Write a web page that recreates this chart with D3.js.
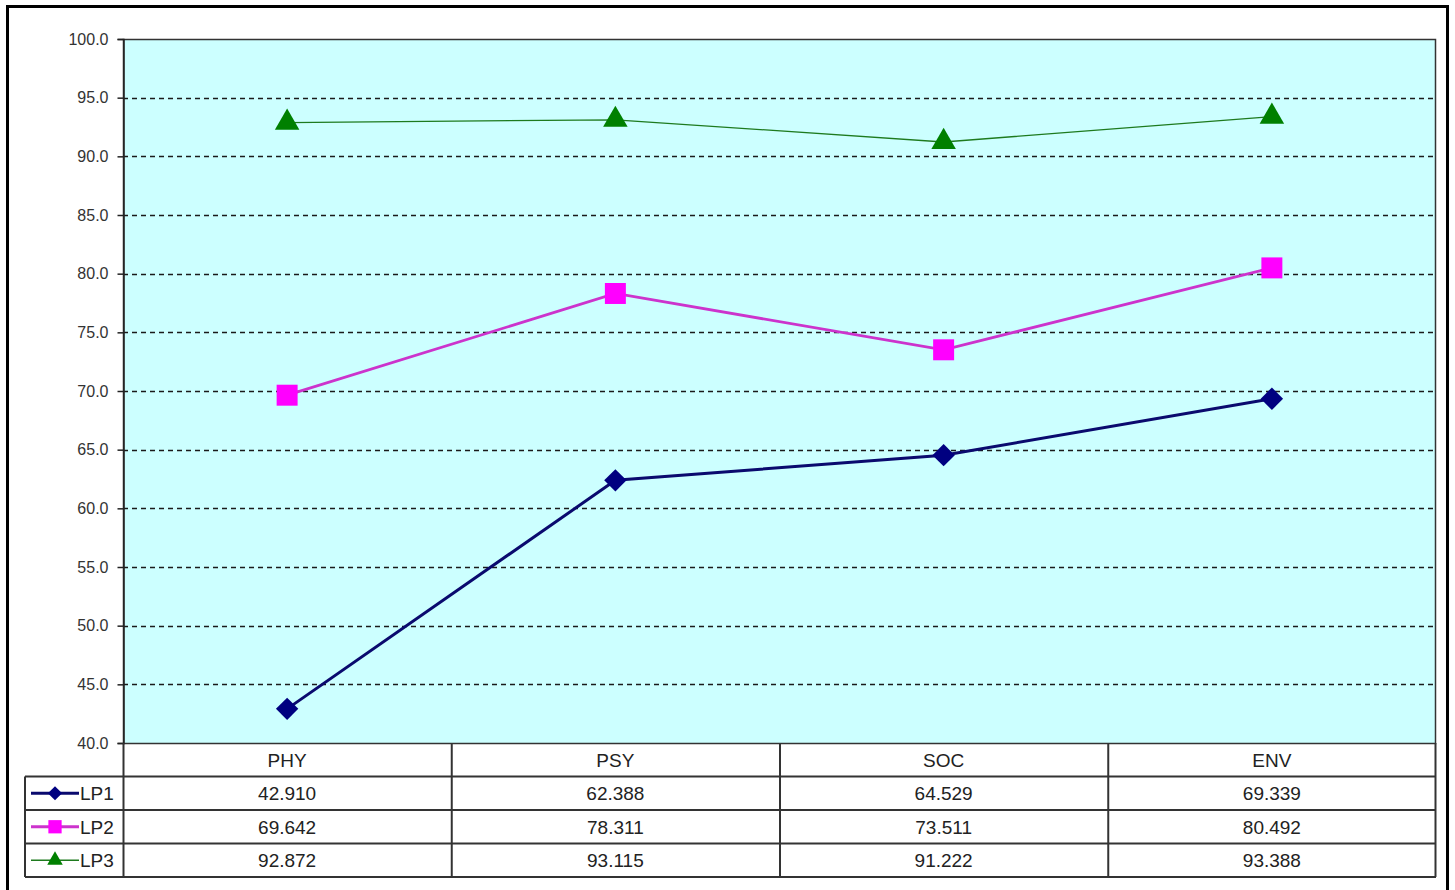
<!DOCTYPE html>
<html>
<head>
<meta charset="utf-8">
<script src="https://cdn.jsdelivr.net/npm/d3@7"></script>
<style>
  body { margin: 0; background: #fff; }
  svg { display: block; font-family: Arial, "Liberation Sans", sans-serif; }
</style>
</head>
<body>
<div id="chart"></div>
<script>
const categories = ["PHY", "PSY", "SOC", "ENV"];
const seriesNames = ["LP1", "LP2", "LP3"];
const lp1 = [42.910, 62.388, 64.529, 69.339];
const lp2 = [69.642, 78.311, 73.511, 80.492];
const lp3 = [92.872, 93.115, 91.222, 93.388];
const yTicks = [40, 45, 50, 55, 60, 65, 70, 75, 80, 85, 90, 95, 100];

// excel-style diamond: a square turned 45 degrees
const diamond = {
  draw(ctx, size) {
    const r = Math.sqrt(size / 2);
    ctx.moveTo(0, -r);
    ctx.lineTo(r, 0);
    ctx.lineTo(0, r);
    ctx.lineTo(-r, 0);
    ctx.closePath();
  }
};

const series = [
  { name: seriesNames[0], values: lp1, color: "#000080", lineColor: "#0a0a6e", width: 3, symbol: diamond, size: 250 },
  { name: seriesNames[1], values: lp2, color: "#ff00ff", lineColor: "#cc33cc", width: 2.8, symbol: d3.symbolSquare, size: 440 },
  { name: seriesNames[2], values: lp3, color: "#008000", lineColor: "#1e7a1e", width: 1.3, symbol: d3.symbolTriangle, size: 260 }
];

const W = 1455, H = 890;
const plot = { left: 123, top: 39, right: 1436, bottom: 743 };
const rowH = 33.5;

const svg = d3.select("#chart").append("svg")
  .attr("width", W)
  .attr("height", H);

// outer frame
svg.append("rect")
  .attr("x", 7.5).attr("y", 6.5)
  .attr("width", 1440).attr("height", 900)
  .attr("fill", "#fff")
  .attr("stroke", "#000")
  .attr("stroke-width", 3);

const x = d3.scaleBand()
  .domain(categories)
  .range([plot.left, plot.right])
  .padding(0);

const y = d3.scaleLinear()
  .domain([40, 100])
  .range([plot.bottom, plot.top]);

// plot background
svg.append("rect")
  .attr("x", plot.left).attr("y", plot.top)
  .attr("width", plot.right - plot.left)
  .attr("height", plot.bottom - plot.top)
  .attr("fill", "#ccffff");

// dashed gridlines
svg.append("g")
  .selectAll("line")
  .data(yTicks.filter(t => t > 40 && t < 100))
  .enter().append("line")
  .attr("x1", plot.left).attr("x2", plot.right)
  .attr("y1", d => Math.round(y(d)) + 0.5)
  .attr("y2", d => Math.round(y(d)) + 0.5)
  .attr("stroke", "#1a1a1a")
  .attr("stroke-width", 1.5)
  .attr("stroke-dasharray", "5,4");

// plot border
svg.append("rect")
  .attr("x", plot.left + 0.5).attr("y", plot.top + 0.5)
  .attr("width", plot.right - plot.left - 1)
  .attr("height", plot.bottom - plot.top)
  .attr("fill", "none")
  .attr("stroke", "#333")
  .attr("stroke-width", 1.5);

// y axis
const yAxis = svg.append("g")
  .attr("transform", "translate(" + (plot.left + 0.5) + ",0)")
  .call(d3.axisLeft(y).tickValues(yTicks).tickSize(6).tickPadding(9).tickFormat(d3.format(".1f")));
yAxis.select(".domain").attr("stroke", "#222").attr("stroke-width", 1.5);
yAxis.selectAll(".tick line").attr("stroke", "#222").attr("stroke-width", 1.5);
yAxis.selectAll(".tick text")
  .attr("fill", "#333")
  .style("font-size", "16px")
  .style("font-family", "Arial, 'Liberation Sans', sans-serif");

// series lines and markers
const line = d3.line()
  .x((d, i) => x(categories[i]) + x.bandwidth() / 2)
  .y(d => y(d));

series.forEach(s => {
  svg.append("path")
    .datum(s.values)
    .attr("d", line)
    .attr("fill", "none")
    .attr("stroke", s.lineColor)
    .attr("stroke-width", s.width);

  svg.append("g")
    .selectAll("path")
    .data(s.values)
    .enter().append("path")
    .attr("transform", (d, i) => "translate(" + (x(categories[i]) + x.bandwidth() / 2) + "," + y(d) + ")")
    .attr("d", d3.symbol().type(s.symbol).size(s.size))
    .attr("fill", s.color);
});

// data table
const table = svg.append("g");
const tStroke = "#333";
const legLeft = 25;
const headTop = plot.bottom;
const tableBottom = headTop + rowH * 4;

// header row text
table.selectAll(".head")
  .data(categories)
  .enter().append("text")
  .attr("x", d => x(d) + x.bandwidth() / 2)
  .attr("y", headTop + rowH / 2 + 7)
  .attr("text-anchor", "middle")
  .attr("fill", "#222")
  .style("font-size", "19px")
  .text(d => d);

// horizontal lines of the table
[1, 2, 3, 4].forEach(r => {
  table.append("line")
    .attr("x1", legLeft).attr("x2", plot.right)
    .attr("y1", headTop + rowH * r).attr("y2", headTop + rowH * r)
    .attr("stroke", tStroke).attr("stroke-width", 2);
});

// vertical lines
categories.forEach(c => {
  table.append("line")
    .attr("x1", x(c) + 0.5).attr("x2", x(c) + 0.5)
    .attr("y1", headTop).attr("y2", tableBottom)
    .attr("stroke", tStroke).attr("stroke-width", 2);
});
table.append("line")
  .attr("x1", plot.right - 0.5).attr("x2", plot.right - 0.5)
  .attr("y1", headTop).attr("y2", tableBottom)
  .attr("stroke", tStroke).attr("stroke-width", 2);
table.append("line")
  .attr("x1", legLeft).attr("x2", legLeft)
  .attr("y1", headTop + rowH).attr("y2", tableBottom)
  .attr("stroke", tStroke).attr("stroke-width", 2);

// rows: legend key + values
series.forEach((s, r) => {
  const cy = headTop + rowH * (r + 1) + rowH / 2;
  table.append("line")
    .attr("x1", 31).attr("x2", 79)
    .attr("y1", cy).attr("y2", cy)
    .attr("stroke", s.lineColor)
    .attr("stroke-width", s.width);
  table.append("path")
    .attr("transform", "translate(55," + cy + ")")
    .attr("d", d3.symbol().type(s.symbol).size(s.size * 0.4))
    .attr("fill", s.color);
  table.append("text")
    .attr("x", 80)
    .attr("y", cy + 7)
    .attr("fill", "#222")
    .style("font-size", "19px")
    .text(s.name);

  table.selectAll(".v" + r)
    .data(s.values)
    .enter().append("text")
    .attr("x", (d, i) => x(categories[i]) + x.bandwidth() / 2)
    .attr("y", cy + 7)
    .attr("text-anchor", "middle")
    .attr("fill", "#222")
    .style("font-size", "19px")
    .text(d => d3.format(".3f")(d));
});
</script>
</body>
</html>
